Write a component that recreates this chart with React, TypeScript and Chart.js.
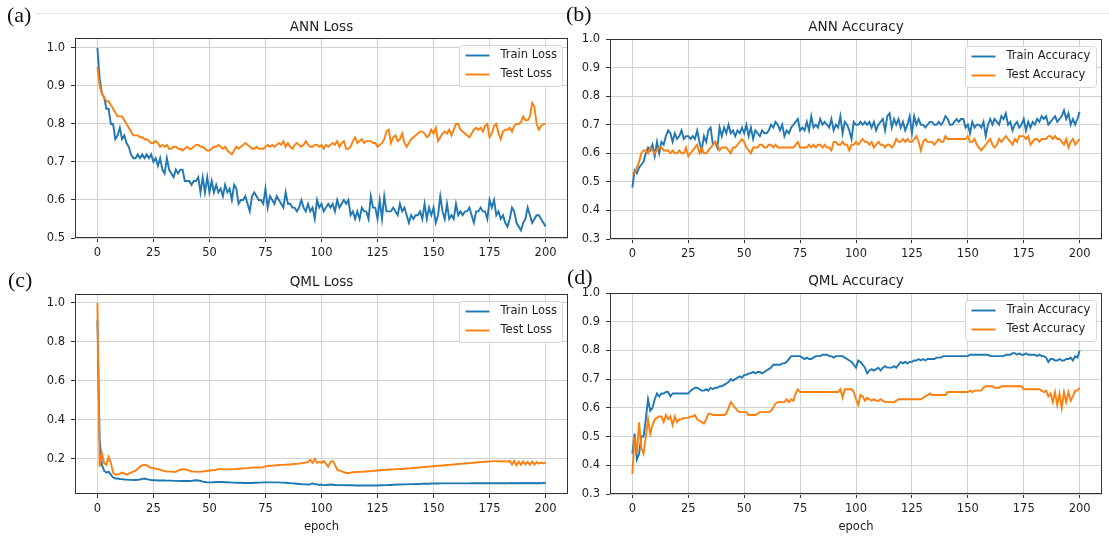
import React, { useEffect, useRef } from "react";
import { Chart, registerables } from "chart.js";

Chart.register(...registerables);

// ---------- data ----------
const EPOCHS = Array.from({ length: 201 }, (_, i) => i);
const X_TICKS = [0, 25, 50, 75, 100, 125, 150, 175, 200];
const ANN_LOSS_TICKS = [0.5, 0.6, 0.7, 0.8, 0.9, 1.0];
const ACC_TICKS = [0.3, 0.4, 0.5, 0.6, 0.7, 0.8, 0.9, 1.0];
const QML_LOSS_TICKS = [0.2, 0.4, 0.6, 0.8, 1.0];

const ANN_TRAIN_LOSS = [
  1.00, 0.92, 0.88, 0.87, 0.84, 0.84, 0.80, 0.80, 0.76, 0.77,
  0.79, 0.76, 0.77, 0.75, 0.74, 0.72, 0.71, 0.71, 0.72, 0.71,
  0.72, 0.71, 0.72, 0.71, 0.72, 0.70, 0.71, 0.69, 0.71, 0.68,
  0.67, 0.71, 0.68, 0.67, 0.66, 0.68, 0.67, 0.68, 0.68, 0.65,
  0.65, 0.65, 0.64, 0.65, 0.65, 0.66, 0.62, 0.66, 0.62, 0.66,
  0.62, 0.65, 0.62, 0.64, 0.62, 0.63, 0.61, 0.64, 0.62, 0.63,
  0.60, 0.64, 0.63, 0.59, 0.60, 0.60, 0.61, 0.59, 0.57, 0.61,
  0.62, 0.61, 0.60, 0.60, 0.59, 0.63, 0.58, 0.61, 0.60, 0.59,
  0.61, 0.60, 0.59, 0.58, 0.62, 0.59, 0.59, 0.58, 0.58, 0.57,
  0.58, 0.60, 0.58, 0.57, 0.59, 0.57, 0.58, 0.55, 0.60, 0.58,
  0.59, 0.57, 0.58, 0.59, 0.58, 0.59, 0.57, 0.60, 0.58, 0.59,
  0.60, 0.59, 0.60, 0.56, 0.57, 0.55, 0.57, 0.55, 0.58, 0.57,
  0.57, 0.55, 0.61, 0.58, 0.58, 0.55, 0.60, 0.55, 0.61, 0.57,
  0.57, 0.57, 0.58, 0.57, 0.56, 0.59, 0.57, 0.58, 0.56, 0.54,
  0.56, 0.55, 0.56, 0.56, 0.57, 0.55, 0.59, 0.55, 0.58, 0.56,
  0.58, 0.54, 0.56, 0.61, 0.57, 0.55, 0.59, 0.55, 0.56, 0.55,
  0.59, 0.56, 0.57, 0.56, 0.57, 0.57, 0.58, 0.56, 0.54, 0.57,
  0.57, 0.58, 0.57, 0.57, 0.55, 0.60, 0.58, 0.60, 0.56, 0.57,
  0.55, 0.56, 0.54, 0.53, 0.55, 0.58, 0.57, 0.54, 0.53, 0.52,
  0.54, 0.55, 0.58, 0.56, 0.54, 0.55, 0.56, 0.56, 0.55, 0.54,
  0.53,
];

const ANN_TEST_LOSS = [
  0.95, 0.90, 0.88, 0.87, 0.86, 0.86, 0.85, 0.84, 0.83, 0.82,
  0.82, 0.82, 0.81, 0.80, 0.79, 0.78, 0.77, 0.77, 0.77, 0.765,
  0.765, 0.76, 0.76, 0.755, 0.75, 0.75, 0.755, 0.75, 0.74, 0.745,
  0.74, 0.745, 0.735, 0.735, 0.74, 0.74, 0.735, 0.735, 0.73, 0.735,
  0.74, 0.735, 0.735, 0.74, 0.745, 0.745, 0.74, 0.74, 0.735, 0.73,
  0.73, 0.735, 0.74, 0.74, 0.745, 0.74, 0.735, 0.74, 0.73, 0.725,
  0.72, 0.73, 0.74, 0.735, 0.74, 0.745, 0.75, 0.745, 0.74, 0.735,
  0.735, 0.74, 0.735, 0.735, 0.735, 0.74, 0.745, 0.74, 0.745, 0.74,
  0.745, 0.75, 0.745, 0.755, 0.74, 0.75, 0.74, 0.735, 0.745, 0.75,
  0.745, 0.74, 0.745, 0.755, 0.745, 0.74, 0.74, 0.745, 0.745, 0.74,
  0.745, 0.735, 0.745, 0.74, 0.745, 0.75, 0.745, 0.755, 0.74, 0.75,
  0.755, 0.735, 0.735, 0.74, 0.755, 0.765, 0.75, 0.755, 0.76, 0.75,
  0.755, 0.755, 0.755, 0.75, 0.75, 0.74, 0.745, 0.75, 0.76, 0.78,
  0.785, 0.75, 0.765, 0.77, 0.755, 0.76, 0.775, 0.75, 0.74, 0.75,
  0.76, 0.765, 0.77, 0.775, 0.78, 0.78, 0.775, 0.765, 0.77, 0.785,
  0.775, 0.79, 0.755, 0.765, 0.775, 0.78, 0.775, 0.785, 0.77, 0.785,
  0.80, 0.80, 0.785, 0.78, 0.775, 0.77, 0.765, 0.775, 0.785, 0.79,
  0.785, 0.79, 0.78, 0.795, 0.80, 0.765, 0.775, 0.795, 0.80, 0.775,
  0.76, 0.78, 0.785, 0.785, 0.79, 0.78, 0.795, 0.80, 0.80, 0.805,
  0.82, 0.81, 0.81, 0.82, 0.855, 0.845, 0.80, 0.785, 0.795, 0.80,
  0.80,
];

const ANN_TRAIN_ACC = [
  0.48, 0.54, 0.53, 0.55, 0.56, 0.57, 0.60, 0.62, 0.61, 0.63,
  0.59, 0.64, 0.60, 0.64, 0.63, 0.66, 0.68, 0.67, 0.64, 0.67,
  0.65, 0.66, 0.68, 0.65, 0.66, 0.66, 0.65, 0.66, 0.65, 0.68,
  0.64, 0.61, 0.66, 0.64, 0.68, 0.69, 0.63, 0.64, 0.62, 0.69,
  0.66, 0.69, 0.67, 0.70, 0.67, 0.68, 0.66, 0.68, 0.67, 0.69,
  0.67, 0.70, 0.66, 0.69, 0.65, 0.68, 0.67, 0.66, 0.68, 0.67,
  0.67, 0.68, 0.70, 0.69, 0.71, 0.70, 0.68, 0.70, 0.66, 0.68,
  0.67, 0.69, 0.70, 0.71, 0.72, 0.68, 0.69, 0.68, 0.71, 0.68,
  0.73, 0.69, 0.70, 0.69, 0.72, 0.70, 0.71, 0.70, 0.69, 0.72,
  0.68, 0.70, 0.69, 0.73, 0.67, 0.71, 0.70, 0.68, 0.65, 0.71,
  0.70, 0.70, 0.71, 0.70, 0.71, 0.70, 0.71, 0.69, 0.71, 0.68,
  0.70, 0.71, 0.72, 0.68, 0.73, 0.74, 0.69, 0.72, 0.70, 0.72,
  0.69, 0.71, 0.68, 0.70, 0.73, 0.67, 0.73, 0.70, 0.72, 0.70,
  0.70, 0.69, 0.70, 0.71, 0.71, 0.70, 0.70, 0.71, 0.70, 0.71,
  0.73, 0.72, 0.70, 0.70, 0.71, 0.72, 0.71, 0.72, 0.72, 0.69,
  0.70, 0.67, 0.71, 0.69, 0.70, 0.70, 0.69, 0.71, 0.66, 0.70,
  0.72, 0.70, 0.72, 0.71, 0.70, 0.73, 0.72, 0.74, 0.70, 0.71,
  0.68, 0.70, 0.71, 0.69, 0.70, 0.72, 0.68, 0.71, 0.69, 0.71,
  0.70, 0.72, 0.71, 0.73, 0.72, 0.73, 0.70, 0.71, 0.72, 0.73,
  0.71, 0.72, 0.73, 0.75, 0.72, 0.74, 0.70, 0.72, 0.70, 0.72,
  0.745,
];

const ANN_TEST_ACC = [
  0.53, 0.53, 0.55, 0.57, 0.60, 0.61, 0.61, 0.60, 0.62, 0.61,
  0.60, 0.61, 0.62, 0.62, 0.61, 0.61, 0.61, 0.60, 0.61, 0.60,
  0.60, 0.61, 0.60, 0.60, 0.62, 0.59, 0.60, 0.61, 0.62, 0.63,
  0.60, 0.62, 0.60, 0.60, 0.61, 0.62, 0.63, 0.64, 0.63, 0.61,
  0.62, 0.62, 0.62, 0.61, 0.60, 0.62, 0.62, 0.63, 0.64, 0.65,
  0.64, 0.62, 0.61, 0.60, 0.62, 0.62, 0.62, 0.63, 0.63, 0.62,
  0.62, 0.63, 0.63, 0.62, 0.63, 0.62, 0.62, 0.62, 0.62, 0.62,
  0.62, 0.62, 0.62, 0.63, 0.64, 0.62, 0.62, 0.62, 0.62, 0.63,
  0.62, 0.63, 0.62, 0.63, 0.63, 0.62, 0.63, 0.62, 0.62, 0.61,
  0.64, 0.64, 0.63, 0.63, 0.64, 0.63, 0.63, 0.61, 0.63, 0.63,
  0.64, 0.63, 0.64, 0.65, 0.64, 0.64, 0.63, 0.64, 0.62, 0.63,
  0.64, 0.63, 0.63, 0.62, 0.63, 0.63, 0.62, 0.63, 0.65, 0.64,
  0.64, 0.65, 0.64, 0.65, 0.64, 0.64, 0.65, 0.66, 0.64, 0.61,
  0.64, 0.65, 0.64, 0.64, 0.64, 0.63, 0.64, 0.65, 0.64, 0.64,
  0.66, 0.65, 0.65, 0.65, 0.65, 0.65, 0.65, 0.65, 0.65, 0.65,
  0.66, 0.64, 0.64, 0.65, 0.63, 0.62, 0.61, 0.62, 0.63, 0.64,
  0.65, 0.63, 0.62, 0.63, 0.65, 0.64, 0.65, 0.66, 0.65, 0.64,
  0.63, 0.65, 0.64, 0.66, 0.66, 0.66, 0.65, 0.66, 0.63, 0.64,
  0.65, 0.65, 0.64, 0.65, 0.65, 0.65, 0.66, 0.66, 0.65, 0.66,
  0.65, 0.65, 0.64, 0.63, 0.65, 0.62, 0.64, 0.65, 0.63, 0.64,
  0.65,
];

const QML_TRAIN_LOSS = [
  0.91, 0.30, 0.17, 0.14, 0.13, 0.135, 0.12, 0.105, 0.10, 0.10,
  0.097, 0.097, 0.095, 0.094, 0.093, 0.093, 0.092, 0.092, 0.093, 0.095,
  0.098, 0.100, 0.097, 0.094, 0.092, 0.091, 0.091, 0.090, 0.090, 0.090,
  0.090, 0.089, 0.089, 0.089, 0.088, 0.088, 0.088, 0.087, 0.087, 0.087,
  0.087, 0.087, 0.088, 0.090, 0.091, 0.090, 0.087, 0.084, 0.082, 0.080,
  0.080, 0.080, 0.081, 0.082, 0.082, 0.082, 0.082, 0.081, 0.081, 0.080,
  0.079, 0.079, 0.078, 0.078, 0.078, 0.077, 0.077, 0.077, 0.077, 0.077,
  0.078, 0.078, 0.079, 0.079, 0.080, 0.080, 0.080, 0.080, 0.080, 0.080,
  0.080, 0.080, 0.079, 0.079, 0.078, 0.077, 0.076, 0.075, 0.074, 0.073,
  0.072, 0.071, 0.070, 0.070, 0.069, 0.070, 0.075, 0.070, 0.071, 0.066,
  0.069, 0.066, 0.067, 0.068, 0.069, 0.068, 0.067, 0.066, 0.066, 0.066,
  0.066, 0.065, 0.065, 0.065, 0.065, 0.064, 0.064, 0.064, 0.064, 0.064,
  0.064, 0.064, 0.064, 0.064, 0.064, 0.064, 0.065, 0.065, 0.066, 0.066,
  0.067, 0.067, 0.068, 0.068, 0.069, 0.069, 0.070, 0.070, 0.070, 0.071,
  0.071, 0.071, 0.072, 0.072, 0.072, 0.073, 0.073, 0.073, 0.073, 0.074,
  0.074, 0.074, 0.074, 0.075, 0.075, 0.075, 0.075, 0.075, 0.075, 0.075,
  0.075, 0.075, 0.075, 0.075, 0.075, 0.075, 0.075, 0.076, 0.076, 0.076,
  0.076, 0.076, 0.076, 0.076, 0.076, 0.076, 0.076, 0.076, 0.076, 0.076,
  0.076, 0.076, 0.076, 0.076, 0.076, 0.077, 0.076, 0.077, 0.076, 0.077,
  0.076, 0.077, 0.076, 0.077, 0.076, 0.077, 0.076, 0.077, 0.076, 0.077,
  0.077,
];

const QML_TEST_LOSS = [
  1.00, 0.16, 0.23, 0.18, 0.17, 0.21, 0.18, 0.13, 0.12, 0.12,
  0.125, 0.13, 0.125, 0.12, 0.125, 0.13, 0.135, 0.14, 0.15, 0.16,
  0.168, 0.17, 0.168, 0.16, 0.155, 0.153, 0.15, 0.148, 0.145, 0.14,
  0.138, 0.136, 0.135, 0.135, 0.134, 0.134, 0.14, 0.145, 0.148, 0.147,
  0.145, 0.14, 0.136, 0.135, 0.135, 0.134, 0.135, 0.135, 0.137, 0.14,
  0.14, 0.142, 0.143, 0.145, 0.148, 0.148, 0.147, 0.147, 0.147, 0.147,
  0.148, 0.148, 0.149, 0.15, 0.151, 0.152, 0.152, 0.153, 0.155, 0.156,
  0.157, 0.156, 0.156, 0.156, 0.158, 0.162, 0.164, 0.165, 0.166, 0.167,
  0.168, 0.169, 0.17, 0.17, 0.171, 0.172, 0.172, 0.173, 0.174, 0.175,
  0.176, 0.178, 0.18, 0.182, 0.185, 0.195, 0.18, 0.20, 0.18, 0.185,
  0.18, 0.19, 0.175, 0.16, 0.185, 0.19, 0.17, 0.145, 0.14, 0.138,
  0.132, 0.128, 0.128, 0.13, 0.132, 0.133, 0.133, 0.134, 0.134, 0.135,
  0.136, 0.137, 0.138, 0.139, 0.14, 0.141, 0.142, 0.143, 0.144, 0.145,
  0.146, 0.147, 0.147, 0.148, 0.148, 0.149, 0.149, 0.15, 0.151, 0.152,
  0.153, 0.154, 0.155, 0.156, 0.157, 0.158, 0.159, 0.16, 0.161, 0.162,
  0.163, 0.164, 0.165, 0.166, 0.167, 0.168, 0.169, 0.17, 0.171, 0.172,
  0.173, 0.174, 0.175, 0.176, 0.177, 0.178, 0.179, 0.18, 0.181, 0.182,
  0.183, 0.184, 0.185, 0.186, 0.187, 0.188, 0.188, 0.189, 0.189, 0.188,
  0.189, 0.187, 0.189, 0.186, 0.19, 0.172, 0.19, 0.168, 0.186, 0.17,
  0.188, 0.172, 0.186, 0.17, 0.187, 0.172, 0.184, 0.176, 0.182, 0.178,
  0.182,
];

const QML_TRAIN_ACC = [
  0.44, 0.51, 0.42, 0.44, 0.50, 0.50, 0.56, 0.63, 0.59, 0.60,
  0.63, 0.65, 0.64, 0.65, 0.65, 0.655, 0.655, 0.64, 0.65, 0.65,
  0.65, 0.65, 0.65, 0.65, 0.65, 0.65, 0.66, 0.665, 0.67, 0.67,
  0.665, 0.66, 0.66, 0.665, 0.66, 0.67, 0.665, 0.67, 0.67, 0.675,
  0.675, 0.68, 0.685, 0.69, 0.70, 0.695, 0.70, 0.705, 0.71, 0.705,
  0.715, 0.715, 0.72, 0.72, 0.725, 0.72, 0.725, 0.725, 0.72, 0.725,
  0.73, 0.735, 0.74, 0.75, 0.75, 0.75, 0.75, 0.755, 0.755, 0.76,
  0.77, 0.78, 0.78, 0.78, 0.78, 0.78, 0.775, 0.77, 0.775, 0.77,
  0.77, 0.775, 0.78, 0.78, 0.78, 0.785, 0.785, 0.785, 0.78, 0.78,
  0.775, 0.78, 0.78, 0.78, 0.78, 0.775, 0.77, 0.765, 0.76, 0.75,
  0.74, 0.765, 0.76, 0.75, 0.74, 0.72, 0.73, 0.735, 0.73, 0.735,
  0.74, 0.73, 0.74, 0.745, 0.74, 0.74, 0.74, 0.745, 0.74, 0.75,
  0.76, 0.755, 0.76, 0.755, 0.76, 0.76, 0.765, 0.765, 0.77, 0.765,
  0.77, 0.765, 0.77, 0.77, 0.77, 0.77, 0.775, 0.775, 0.775, 0.78,
  0.78, 0.78, 0.78, 0.78, 0.78, 0.78, 0.78, 0.78, 0.78, 0.78,
  0.78, 0.785, 0.785, 0.785, 0.785, 0.785, 0.785, 0.785, 0.785, 0.785,
  0.78, 0.78, 0.78, 0.78, 0.78, 0.78, 0.78, 0.785, 0.785, 0.785,
  0.79, 0.79, 0.785, 0.79, 0.785, 0.785, 0.79, 0.785, 0.785, 0.785,
  0.785, 0.78, 0.785, 0.78, 0.78, 0.775, 0.76, 0.77, 0.77, 0.765,
  0.765, 0.77, 0.765, 0.765, 0.77, 0.77, 0.775, 0.765, 0.78, 0.775,
  0.80,
];

const QML_TEST_ACC = [
  0.37, 0.50, 0.44, 0.55, 0.46, 0.44, 0.50, 0.56, 0.51, 0.54,
  0.56, 0.565, 0.57, 0.57, 0.55, 0.575, 0.56, 0.57, 0.54, 0.57,
  0.55, 0.56, 0.56, 0.565, 0.565, 0.565, 0.57, 0.57, 0.575, 0.56,
  0.555, 0.55, 0.545, 0.56, 0.58, 0.58, 0.575, 0.575, 0.575, 0.575,
  0.575, 0.575, 0.58, 0.60, 0.62, 0.61, 0.60, 0.59, 0.585, 0.585,
  0.585, 0.585, 0.575, 0.575, 0.575, 0.575, 0.58, 0.585, 0.585, 0.585,
  0.585, 0.585, 0.59, 0.60, 0.615, 0.62, 0.62, 0.62, 0.62, 0.63,
  0.62, 0.63, 0.625, 0.65, 0.665, 0.655, 0.655, 0.655, 0.655, 0.655,
  0.655, 0.655, 0.655, 0.655, 0.655, 0.655, 0.655, 0.655, 0.655, 0.655,
  0.655, 0.655, 0.655, 0.665, 0.635, 0.665, 0.665, 0.665, 0.665, 0.655,
  0.63, 0.61, 0.645, 0.64, 0.625, 0.635, 0.63, 0.625, 0.63, 0.625,
  0.625, 0.63, 0.625, 0.62, 0.62, 0.62, 0.62, 0.62, 0.625, 0.63,
  0.63, 0.63, 0.63, 0.63, 0.63, 0.63, 0.63, 0.63, 0.63, 0.63,
  0.635, 0.64, 0.645, 0.65, 0.645, 0.645, 0.645, 0.645, 0.645, 0.645,
  0.645, 0.655, 0.655, 0.655, 0.655, 0.655, 0.655, 0.655, 0.655, 0.655,
  0.655, 0.66, 0.655, 0.66, 0.66, 0.66, 0.66, 0.67, 0.675, 0.675,
  0.675, 0.675, 0.67, 0.67, 0.67, 0.675, 0.675, 0.675, 0.675, 0.675,
  0.675, 0.675, 0.675, 0.675, 0.675, 0.665, 0.665, 0.665, 0.665, 0.665,
  0.665, 0.665, 0.665, 0.66, 0.655, 0.66, 0.64, 0.65, 0.62, 0.655,
  0.61, 0.65, 0.60, 0.655, 0.62, 0.655, 0.625, 0.64, 0.66, 0.66,
  0.67,
];

// ---------- styling / layout ----------
const BLUE = "#1f77b4";
const ORANGE = "#ff7f0e";
const FONT = '"DejaVu Sans", Verdana, sans-serif';
const TEXT = "#1e1e1e";
const GRID = "#d2d2d2";
const SPINE = "#333333";

const Y_AXIS_W = 45;
const PAD_R = 8;
const PAD_T = 20;

type Series = { label: string; values: number[]; color: string };
type Panel = {
  id: string;
  title: string;
  series: Series[];
  yMin: number;
  yMax: number;
  yTicks: number[];
  xTitle: string | null;
  box: { l: number; t: number; r: number; b: number };
  titleGap: number;
};

const PANELS: Panel[] = [
  {
    id: "a",
    title: "ANN Loss",
    series: [
      { label: "Train Loss", values: ANN_TRAIN_LOSS, color: BLUE },
      { label: "Test Loss", values: ANN_TEST_LOSS, color: ORANGE },
    ],
    yMin: 0.5,
    yMax: 1.0263,
    yTicks: ANN_LOSS_TICKS,
    xTitle: null,
    box: { l: 75, t: 38, r: 568, b: 238 },
    titleGap: 11,
  },
  {
    id: "b",
    title: "ANN Accuracy",
    series: [
      { label: "Train Accuracy", values: ANN_TRAIN_ACC, color: BLUE },
      { label: "Test Accuracy", values: ANN_TEST_ACC, color: ORANGE },
    ],
    yMin: 0.3,
    yMax: 1.0,
    yTicks: ACC_TICKS,
    xTitle: null,
    box: { l: 610, t: 39, r: 1102, b: 239 },
    titleGap: 12,
  },
  {
    id: "c",
    title: "QML Loss",
    series: [
      { label: "Train Loss", values: QML_TRAIN_LOSS, color: BLUE },
      { label: "Test Loss", values: QML_TEST_LOSS, color: ORANGE },
    ],
    yMin: 0.0205,
    yMax: 1.046,
    yTicks: QML_LOSS_TICKS,
    xTitle: "epoch",
    box: { l: 75, t: 294, r: 568, b: 494 },
    titleGap: 12,
  },
  {
    id: "d",
    title: "QML Accuracy",
    series: [
      { label: "Train Accuracy", values: QML_TRAIN_ACC, color: BLUE },
      { label: "Test Accuracy", values: QML_TEST_ACC, color: ORANGE },
    ],
    yMin: 0.3,
    yMax: 1.0,
    yTicks: ACC_TICKS,
    xTitle: "epoch",
    box: { l: 610, t: 293, r: 1102, b: 494 },
    titleGap: 12,
  },
];

const PANEL_LABELS = [
  { text: "(a)", left: 7, baseline: 22 },
  { text: "(b)", left: 566, baseline: 21 },
  { text: "(c)", left: 8, baseline: 287 },
  { text: "(d)", left: 567, baseline: 284 },
];

function makeDecorPlugin(panel: Panel) {
  return {
    id: "mplDecor" + panel.id,
    afterDatasetsDraw(chart: any) {
      const { ctx, chartArea: a } = chart;
      ctx.save();
      // full box frame (matplotlib spines)
      ctx.strokeStyle = SPINE;
      ctx.lineWidth = 1;
      const x0 = Math.round(a.left) + 0.5;
      const y0 = Math.round(a.top) + 0.5;
      const x1 = Math.round(a.right) - 0.5;
      const y1 = Math.round(a.bottom) - 0.5;
      ctx.strokeRect(x0, y0, x1 - x0, y1 - y0);

      // title
      ctx.fillStyle = TEXT;
      ctx.font = `13.5px ${FONT}`;
      ctx.textAlign = "center";
      ctx.textBaseline = "middle";
      ctx.fillText(panel.title, (a.left + a.right) / 2, a.top - panel.titleGap);

      // legend (upper right)
      const fs = 11.5;
      ctx.font = `${fs}px ${FONT}`;
      const ds = chart.data.datasets;
      const textW = Math.max(...ds.map((d: any) => ctx.measureText(d.label).width));
      const padL = 6, handle = 24, gap = 11, padR = 6, rowH = 19, padT = 10, padB = 12;
      const w = padL + handle + gap + textW + padR;
      const h = padT + rowH * (ds.length - 1) + padB;
      const lx = Math.round(a.right - 6 - w) + 0.5;
      const ly = Math.round(a.top + 7) + 0.5;
      ctx.beginPath();
      if ((ctx as any).roundRect) (ctx as any).roundRect(lx, ly, Math.round(w), Math.round(h), 3);
      else ctx.rect(lx, ly, Math.round(w), Math.round(h));
      ctx.fillStyle = "rgba(255,255,255,0.85)";
      ctx.fill();
      ctx.strokeStyle = "#d6d6d6";
      ctx.lineWidth = 1;
      ctx.stroke();
      ds.forEach((d: any, i: number) => {
        const cy = ly + padT + i * rowH;
        ctx.beginPath();
        ctx.strokeStyle = d.borderColor;
        ctx.lineWidth = 1.9;
        ctx.moveTo(lx + padL, cy);
        ctx.lineTo(lx + padL + handle, cy);
        ctx.stroke();
        ctx.fillStyle = TEXT;
        ctx.textAlign = "left";
        ctx.textBaseline = "middle";
        ctx.fillText(d.label, lx + padL + handle + gap, cy);
      });
      ctx.restore();
    },
  };
}

function PanelChart({ panel }: { panel: Panel }) {
  const ref = useRef<HTMLCanvasElement | null>(null);
  const { l, t, r, b } = panel.box;
  const xH = panel.xTitle ? 44 : 26;
  const width = r - l + Y_AXIS_W + PAD_R;
  const height = b - t + PAD_T + xH;

  useEffect(() => {
    if (!ref.current) return;
    const tickFont = { family: FONT, size: 11.5 };
    const gridOpts = {
      color: GRID,
      lineWidth: 1,
      drawTicks: true,
      tickLength: 4,
      tickColor: SPINE,
      tickWidth: 1,
    };
    const chart = new Chart(ref.current, {
      type: "line",
      data: {
        datasets: panel.series.map((s, si) => ({
          label: s.label,
          data: EPOCHS.map((e, i) => ({ x: e, y: s.values[i] })),
          borderColor: s.color,
          backgroundColor: s.color,
          borderWidth: 1.9,
          pointRadius: 0,
          pointHoverRadius: 0,
          tension: 0,
          fill: false,
          order: si === 0 ? 1 : 0,
        })),
      },
      options: {
        responsive: false,
        animation: false,
        devicePixelRatio: 1,
        events: [],
        layout: { padding: { left: 0, right: PAD_R, top: PAD_T, bottom: 0 } },
        plugins: {
          legend: { display: false },
          tooltip: { enabled: false },
          title: { display: false },
        },
        scales: {
          x: {
            type: "linear",
            min: -10,
            max: 210,
            afterBuildTicks: (ax: any) => {
              ax.ticks = X_TICKS.map((v) => ({ value: v }));
            },
            afterFit: (ax: any) => {
              ax.height = xH;
            },
            ticks: {
              font: tickFont,
              color: TEXT,
              padding: 4,
              autoSkip: false,
              maxRotation: 0,
              callback: (v: any) => String(v),
            },
            grid: gridOpts,
            border: { display: false },
            title: panel.xTitle
              ? {
                  display: true,
                  text: panel.xTitle,
                  font: { family: FONT, size: 11.5 },
                  color: TEXT,
                  padding: { top: 0, bottom: 4 },
                }
              : { display: false },
          },
          y: {
            type: "linear",
            min: panel.yMin,
            max: panel.yMax,
            afterBuildTicks: (ax: any) => {
              ax.ticks = panel.yTicks.map((v) => ({ value: v }));
            },
            afterFit: (ax: any) => {
              ax.width = Y_AXIS_W;
            },
            ticks: {
              font: tickFont,
              color: TEXT,
              padding: 6,
              autoSkip: false,
              callback: (v: any) => Number(v).toFixed(1),
            },
            grid: gridOpts,
            border: { display: false },
          },
        },
      },
      plugins: [makeDecorPlugin(panel)],
    } as any);
    return () => chart.destroy();
  }, [panel]);

  return (
    <canvas
      ref={ref}
      width={width}
      height={height}
      style={{
        position: "absolute",
        left: l - Y_AXIS_W,
        top: t - PAD_T,
        width,
        height,
      }}
    />
  );
}

export default function App() {
  return (
    <div
      style={{
        position: "fixed",
        left: 0,
        top: 0,
        width: 1109,
        height: 538,
        background: "#ffffff",
        overflow: "hidden",
      }}
    >
      <div
        style={{
          position: "absolute",
          left: 36,
          top: 13,
          width: 1073,
          height: 1,
          background: "#e4e4e4",
        }}
      />
      {PANELS.map((p) => (
        <PanelChart key={p.id} panel={p} />
      ))}
      {PANEL_LABELS.map((lb) => (
        <div
          key={lb.text}
          style={{
            position: "absolute",
            left: lb.left,
            top: lb.baseline - 18.5,
            fontFamily: '"Liberation Serif", "Times New Roman", serif',
            fontSize: 22,
            lineHeight: "22px",
            color: "#111",
            whiteSpace: "nowrap",
          }}
        >
          {lb.text}
        </div>
      ))}
    </div>
  );
}
